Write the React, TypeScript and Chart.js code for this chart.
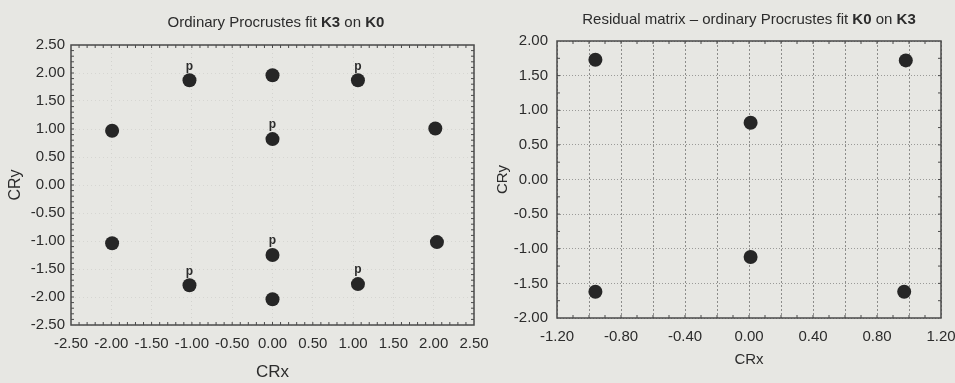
import { useEffect, useRef } from "react";
import { Chart, registerables } from "chart.js";

Chart.register(...registerables);

// ---- data ----
const leftTicks = [-2.5, -2.0, -1.5, -1.0, -0.5, 0.0, 0.5, 1.0, 1.5, 2.0, 2.5];
const leftX = [-1.99, -1.03, 0.0, 1.06, 2.02, 0.0, -1.99, 0.0, -1.03, 0.0, 1.06, 2.04];
const leftY = [0.97, 1.87, 1.96, 1.87, 1.01, 0.82, -1.04, -1.25, -1.79, -2.04, -1.77, -1.02];
const leftMarks = ["", "p", "", "p", "", "p", "", "p", "p", "", "p", ""];

const rightXGrid = [-1.2, -1.0, -0.8, -0.6, -0.4, -0.2, 0.0, 0.2, 0.4, 0.6, 0.8, 1.0, 1.2];
const rightXLabels = [-1.2, -0.8, -0.4, 0.0, 0.4, 0.8, 1.2];
const rightYTicks = [-2.0, -1.5, -1.0, -0.5, 0.0, 0.5, 1.0, 1.5, 2.0];
const rightX = [-0.96, 0.98, 0.01, 0.01, -0.96, 0.97];
const rightY = [1.73, 1.72, 0.82, -1.12, -1.62, -1.62];

const FONT = '"Liberation Sans", Arial, Helvetica, sans-serif';
const BG = "#e7e7e3";
const TEXT = "#2c2c2c";

const framePlugin = {
  id: "frame",
  beforeDatasetsDraw(chart: any, _args: any, opts: any) {
    const { ctx, chartArea: a, scales } = chart;
    const xs = scales.x;
    const ys = scales.y;
    ctx.save();
    ctx.strokeStyle = opts.color;
    ctx.lineWidth = 1;
    const line = (x1: number, y1: number, x2: number, y2: number) => {
      ctx.beginPath();
      ctx.moveTo(x1, y1);
      ctx.lineTo(x2, y2);
      ctx.stroke();
    };
    const nx = Math.round((xs.max - xs.min) / opts.minorX);
    for (let i = 1; i < nx; i++) {
      const px = xs.getPixelForValue(xs.min + i * opts.minorX);
      line(px, a.bottom, px, a.bottom - 3);
      line(px, a.top, px, a.top + 3);
    }
    const ny = Math.round((ys.max - ys.min) / opts.minorY);
    for (let i = 1; i < ny; i++) {
      const py = ys.getPixelForValue(ys.min + i * opts.minorY);
      line(a.left, py, a.left + 3, py);
      line(a.right, py, a.right - 3, py);
    }
    ctx.lineWidth = opts.width;
    ctx.strokeRect(a.left, a.top, a.right - a.left, a.bottom - a.top);
    ctx.restore();
  },
};

const markPlugin = {
  id: "marks",
  afterDatasetsDraw(chart: any, _args: any, opts: any) {
    const labels: string[] = opts.labels || [];
    const meta = chart.getDatasetMeta(0);
    const { ctx } = chart;
    ctx.save();
    ctx.fillStyle = TEXT;
    ctx.font = "bold 12px 'Liberation Sans', Arial, sans-serif";
    ctx.textAlign = "center";
    ctx.textBaseline = "middle";
    meta.data.forEach((el: any, i: number) => {
      if (labels[i]) ctx.fillText(labels[i], el.x, el.y - 14);
    });
    ctx.restore();
  },
};

function near(list: number[], v: number) {
  return list.some((t) => Math.abs(t - v) < 1e-6);
}

function LeftChart() {
  const ref = useRef<HTMLCanvasElement | null>(null);
  useEffect(() => {
    if (!ref.current) return;
    const chart = new Chart(ref.current, {
      type: "scatter",
      data: {
        datasets: [
          {
            data: leftX.map((x, i) => ({ x, y: leftY[i] })),
            backgroundColor: "#262626",
            borderWidth: 0,
            pointRadius: 7,
          },
        ],
      },
      plugins: [framePlugin, markPlugin],
      options: {
        animation: false,
        responsive: false,
        events: [],
        layout: { padding: { top: 45, right: 46, bottom: 0, left: 0 } },
        plugins: {
          legend: { display: false },
          tooltip: { enabled: false },
          frame: { color: "#4a4a4a", width: 1.5, minorX: 0.1, minorY: 0.1 },
          marks: { labels: leftMarks },
        } as any,
        scales: {
          x: {
            type: "linear",
            min: -2.5,
            max: 2.5,
            afterBuildTicks: (s: any) => {
              s.ticks = leftTicks.map((v) => ({ value: v }));
            },
            afterFit: (s: any) => {
              s.height = 58;
            },
            ticks: {
              callback: (v: any) => Number(v).toFixed(2),
              font: { family: FONT, size: 15 },
              color: TEXT,
              padding: 10,
              maxRotation: 0,
              autoSkip: false,
            },
            grid: { color: "#d3d3cf", drawTicks: false, lineWidth: 1 },
            border: { display: false, dash: [1, 3] },
            title: {
              display: true,
              text: "CRx",
              font: { family: FONT, size: 17 },
              color: TEXT,
              padding: { top: 0, bottom: 0 },
            },
          },
          y: {
            type: "linear",
            min: -2.5,
            max: 2.5,
            afterBuildTicks: (s: any) => {
              s.ticks = leftTicks.map((v) => ({ value: v }));
            },
            afterFit: (s: any) => {
              s.width = 71;
            },
            ticks: {
              callback: (v: any) => Number(v).toFixed(2),
              font: { family: FONT, size: 15 },
              color: TEXT,
              padding: 6,
              autoSkip: false,
            },
            grid: { color: "#d6d6d2", drawTicks: false, lineWidth: 1 },
            border: { display: false, dash: [1, 3] },
            title: {
              display: true,
              text: "CRy",
              font: { family: FONT, size: 16 },
              color: TEXT,
              padding: { top: 6, bottom: 0 },
            },
          },
        },
      } as any,
    });
    return () => chart.destroy();
  }, []);
  return (
    <canvas
      ref={ref}
      width={520}
      height={383}
      style={{ position: "absolute", left: 0, top: 0, width: 520, height: 383 }}
    />
  );
}

function RightChart() {
  const ref = useRef<HTMLCanvasElement | null>(null);
  useEffect(() => {
    if (!ref.current) return;
    const chart = new Chart(ref.current, {
      type: "scatter",
      data: {
        datasets: [
          {
            data: rightX.map((x, i) => ({ x, y: rightY[i] })),
            backgroundColor: "#262626",
            borderWidth: 0,
            pointRadius: 7,
          },
        ],
      },
      plugins: [framePlugin, markPlugin],
      options: {
        animation: false,
        responsive: false,
        events: [],
        layout: { padding: { top: 41, right: 39, bottom: 14, left: 0 } },
        plugins: {
          legend: { display: false },
          tooltip: { enabled: false },
          frame: { color: "#4a4a4a", width: 1.5, minorX: 0.1, minorY: 0.25 },
          marks: { labels: [] },
        } as any,
        scales: {
          x: {
            type: "linear",
            min: -1.2,
            max: 1.2,
            afterBuildTicks: (s: any) => {
              s.ticks = rightXGrid.map((v) => ({ value: v }));
            },
            afterFit: (s: any) => {
              s.height = 51;
            },
            ticks: {
              callback: (v: any) => (near(rightXLabels, Number(v)) ? Number(v).toFixed(2) : ""),
              font: { family: FONT, size: 15 },
              color: TEXT,
              padding: 10,
              maxRotation: 0,
              autoSkip: false,
            },
            grid: { color: "#8c8c8a", drawTicks: false, lineWidth: 1 },
            border: { display: false, dash: [2, 2] },
            title: {
              display: true,
              text: "CRx",
              font: { family: FONT, size: 15 },
              color: TEXT,
              padding: { top: 0, bottom: 0 },
            },
          },
          y: {
            type: "linear",
            min: -2,
            max: 2,
            afterBuildTicks: (s: any) => {
              s.ticks = rightYTicks.map((v) => ({ value: v }));
            },
            afterFit: (s: any) => {
              s.width = 67;
            },
            ticks: {
              callback: (v: any) => Number(v).toFixed(2),
              font: { family: FONT, size: 15 },
              color: TEXT,
              padding: 9,
              autoSkip: false,
            },
            grid: { color: "#9a9a98", drawTicks: false, lineWidth: 1 },
            border: { display: false, dash: [1, 2] },
            title: {
              display: true,
              text: "CRy",
              font: { family: FONT, size: 15 },
              color: TEXT,
              padding: { top: 4, bottom: 0 },
            },
          },
        },
      } as any,
    });
    return () => chart.destroy();
  }, []);
  return (
    <canvas
      ref={ref}
      width={490}
      height={383}
      style={{ position: "absolute", left: 490, top: 0, width: 490, height: 383 }}
    />
  );
}

export default function App() {
  return (
    <div
      style={{
        position: "fixed",
        left: 0,
        top: 0,
        width: 955,
        height: 383,
        overflow: "hidden",
        background: BG,
        fontFamily: FONT,
        color: TEXT,
      }}
    >
      <LeftChart />
      <RightChart />
      <div
        style={{
          position: "absolute",
          left: 0,
          width: 552,
          top: 13,
          lineHeight: "18px",
          fontSize: 15,
          textAlign: "center",
          whiteSpace: "nowrap",
        }}
      >
        Ordinary Procrustes fit <b>K3</b> on <b>K0</b>
      </div>
      <div
        style={{
          position: "absolute",
          left: 499,
          width: 500,
          top: 10,
          lineHeight: "18px",
          fontSize: 15,
          textAlign: "center",
          whiteSpace: "nowrap",
        }}
      >
        Residual matrix – ordinary Procrustes fit <b>K0</b> on <b>K3</b>
      </div>
    </div>
  );
}
